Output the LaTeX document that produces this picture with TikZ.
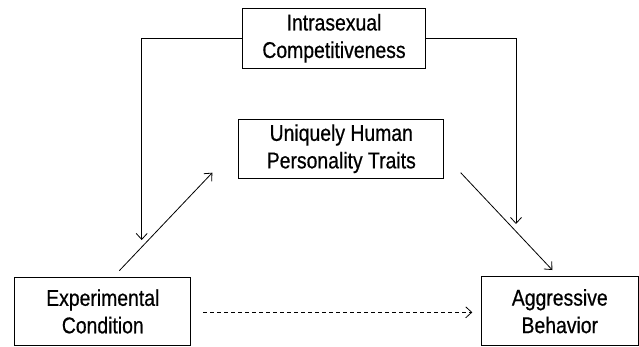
\documentclass[tikz,border=0pt]{standalone}
\usepackage{fontspec}
\setmainfont{Liberation Sans}[FakeStretch=0.85,FakeBold=0.6]
\usetikzlibrary{arrows.meta}
\begin{document}
\begin{tikzpicture}[x=1pt,y=-1pt,
  box/.style={draw,line width=1pt,inner sep=0pt,align=center,
    font=\fontsize{22.8}{27.5}\selectfont},
  conn/.style={line width=0.8pt,-{Straight Barb[length=6pt,width=11pt]}},
  dconn/.style={conn,dash pattern=on 4pt off 3pt}]
\useasboundingbox (0,0) rectangle (639,346);
\node[box,minimum width=183.4pt,minimum height=60pt] (ic) at (334,38.3) {Intrasexual\\Competitiveness};
\node[box,minimum width=204.7pt,minimum height=59.3pt] (uh) at (341.3,148.7) {Uniquely Human\\Personality Traits};
\node[box,minimum width=175.7pt,minimum height=68pt] (ec) at (102.8,311.4) {Experimental\\Condition};
\node[box,minimum width=157pt,minimum height=68.5pt] (ab) at (559.8,311.2) {Aggressive\\Behavior};
\coordinate (lt) at (141.7,240);
\coordinate (rt) at (516,224);
\coordinate (d1s) at (119.3,270.7);
\coordinate (d1e) at (212.3,172.7);
\coordinate (d2s) at (460.7,172.7);
\coordinate (d2e) at (552.3,270);
\coordinate (ds) at (203,312.3);
\coordinate (de) at (472.3,312.3);
\draw[conn] (ic.west) -| (lt);
\draw[conn] (ic.east) -| (rt);
\draw[conn] (d1s) -- (d1e);
\draw[conn] (d2s) -- (d2e);
\draw[dconn] (ds) -- (de);
\end{tikzpicture}
\end{document}
